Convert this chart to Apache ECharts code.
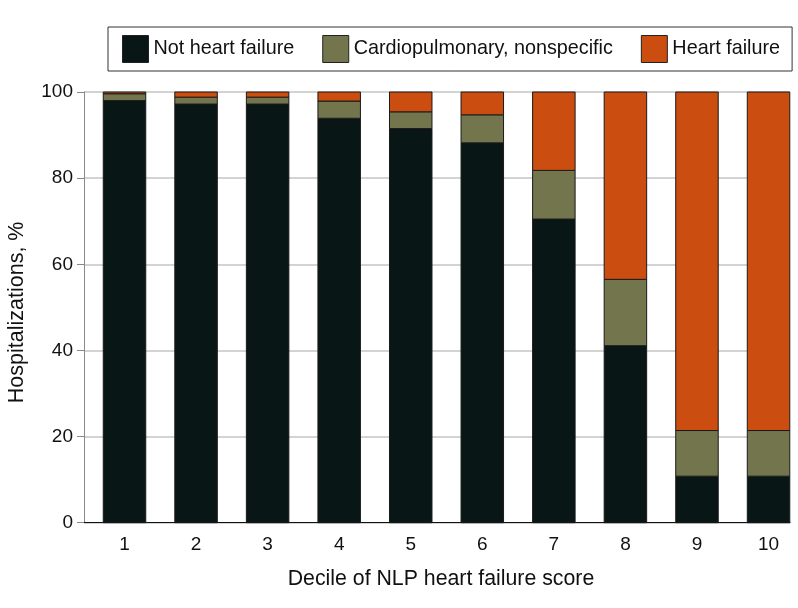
<!DOCTYPE html>
<html>
<head>
<meta charset="utf-8">
<script src="https://cdn.jsdelivr.net/npm/echarts@6/dist/echarts.min.js"></script>
<style>
  html, body { margin: 0; padding: 0; background: #ffffff; }
  #chart { width: 798px; height: 608px; }
</style>
</head>
<body>
<div id="chart"></div>
<script>
const deciles = [1, 2, 3, 4, 5, 6, 7, 8, 9, 10];
const notHeartFailure = [98.0, 97.2, 97.2, 93.9, 91.5, 88.2, 70.5, 41.1, 10.8, 10.8];
const cardiopulmonary = [1.6, 1.6, 1.6, 4.0, 3.9, 6.5, 11.3, 15.4, 10.6, 10.6];
const heartFailure = [0.4, 1.2, 1.2, 2.1, 4.6, 5.3, 18.2, 43.5, 78.6, 78.6];
const yTicks = [0, 20, 40, 60, 80, 100];
const seriesNames = ['Not heart failure', 'Cardiopulmonary, nonspecific', 'Heart failure'];

const FONT = 'Liberation Sans';
const colors = ['#081615', '#73754c', '#cb4d10'];
const BAR_W = 42.5;

const chart = echarts.init(document.getElementById('chart'), null, { renderer: 'canvas' });

const seriesValues = [notHeartFailure, cardiopulmonary, heartFailure];
// stacked [decile, base, top] built from the value arrays
const running = deciles.map(() => 0);
const stackedData = seriesValues.map(vals => deciles.map((d, i) => {
  const base = running[i];
  running[i] = base + vals[i];
  return [d, base, running[i]];
}));

function makeRender(color) {
  return function (params, api) {
    const x = api.value(0);
    const top = api.coord([x, api.value(2)]);
    const bot = api.coord([x, api.value(1)]);
    return {
      type: 'rect',
      shape: { x: top[0] - BAR_W / 2, y: top[1], width: BAR_W, height: bot[1] - top[1] },
      style: { fill: color, stroke: '#1a1a1a', lineWidth: 1 }
    };
  };
}

chart.setOption({
  backgroundColor: '#ffffff',
  animation: false,
  textStyle: { fontFamily: FONT },
  legend: {
    data: seriesNames.map(n => ({ name: n, icon: 'rect' })),
    left: 108,
    top: 27,
    padding: [8, 12, 8, 14],
    borderColor: '#333333',
    borderWidth: 1,
    itemWidth: 26,
    itemHeight: 27,
    itemGap: 28,
    textStyle: { fontFamily: FONT, fontSize: 19.8, color: '#111111' },
    itemStyle: { borderColor: '#222222', borderWidth: 1 }
  },
  grid: { left: 84, right: 8, top: 92, bottom: 85.3, containLabel: false, outerBoundsMode: 'none' },
  xAxis: {
    type: 'value',
    min: 0.434,
    max: 10.3,
    name: 'Decile of NLP heart failure score',
    nameLocation: 'middle',
    nameGap: 46,
    nameTextStyle: { fontFamily: FONT, fontSize: 21.3, color: '#111111', padding: [0, 0, 0, 8] },
    axisLine: { show: true, onZero: false, lineStyle: { color: '#111111', width: 1.2 } },
    axisTick: { show: false },
    splitLine: { show: false },
    axisLabel: {
      customValues: deciles,
      formatter: v => String(v),
      margin: 13,
      fontFamily: FONT,
      fontSize: 19,
      color: '#111111'
    }
  },
  yAxis: {
    type: 'value',
    min: 0,
    max: 100,
    interval: 20,
    name: 'Hospitalizations, %',
    nameLocation: 'middle',
    nameGap: 56,
    nameTextStyle: { fontFamily: FONT, fontSize: 21.5, color: '#111111', padding: [0, 10, 0, 0] },
    axisLine: { show: true, lineStyle: { color: '#888888', width: 1 } },
    axisTick: { show: true, length: 7, lineStyle: { color: '#888888', width: 1 } },
    splitLine: { show: true, lineStyle: { color: '#c4c4c4', width: 1.5 } },
    axisLabel: {
      customValues: yTicks,
      margin: 11,
      fontFamily: FONT,
      fontSize: 19,
      color: '#111111'
    }
  },
  series: seriesNames.map((name, k) => ({
    name: name,
    type: 'custom',
    renderItem: makeRender(colors[k]),
    encode: { x: 0, y: [1, 2] },
    data: stackedData[k],
    itemStyle: { color: colors[k] },
    emphasis: { disabled: true }
  }))
});
</script>
</body>
</html>
